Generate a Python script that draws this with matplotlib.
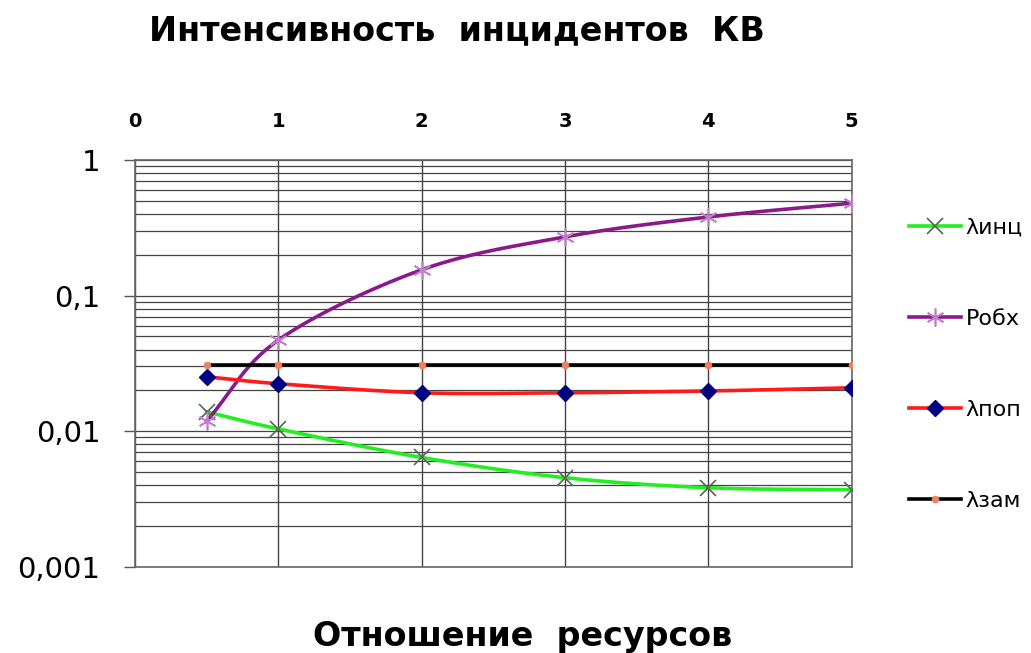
import matplotlib.pyplot as plt
from matplotlib.ticker import FixedLocator, LogLocator, NullFormatter
import numpy as np

plt.rcParams['font.family'] = ['DejaVu Sans']

# resource ratio on the x axis
x = [0.5, 1, 2, 3, 4, 5]

lam_inc = [0.0139, 0.0104, 0.0064, 0.00454, 0.00383, 0.0037]
p_obh = [0.0119, 0.047, 0.155, 0.271, 0.38, 0.48]
lam_pop = [0.0252, 0.0224, 0.0192, 0.0192, 0.0198, 0.0209]
lam_zam = [0.031, 0.031, 0.031, 0.031, 0.031, 0.031]

series_names = ['λинц', 'Робх', 'λпоп', 'λзам']
y_ticks = [0.001, 0.01, 0.1, 1]
y_ticklabels = ['0,001', '0,01', '0,1', '1']
x_ticks = [0, 1, 2, 3, 4, 5]


def smooth(xs, ys, n=30):
    # Catmull-Rom curve through the points, in log space
    px = np.asarray(xs, float)
    py = np.log10(np.asarray(ys, float))
    px = np.concatenate([[2 * px[0] - px[1]], px, [2 * px[-1] - px[-2]]])
    py = np.concatenate([[2 * py[0] - py[1]], py, [2 * py[-1] - py[-2]]])
    out_x, out_y = [], []
    for i in range(1, len(px) - 2):
        t = np.linspace(0, 1, n, endpoint=(i == len(px) - 3))
        for arr, out in ((px, out_x), (py, out_y)):
            p0, p1, p2, p3 = arr[i - 1], arr[i], arr[i + 1], arr[i + 2]
            out.extend(0.5 * ((2 * p1) + (-p0 + p2) * t
                              + (2 * p0 - 5 * p1 + 4 * p2 - p3) * t ** 2
                              + (-p0 + 3 * p1 - 3 * p2 + p3) * t ** 3))
    return np.array(out_x), 10 ** np.array(out_y)


fig = plt.figure(figsize=(10.31, 6.53), dpi=100)
ax = fig.add_axes([0.131, 0.132, 0.695, 0.623])

styles = [
    (lam_inc, '#22ee22', 'x', '#556655', 11, 1.2),
    (p_obh, '#8a1a8a', (6, 2, 0), '#c080c8', 13, 1.2),
    (lam_pop, '#ff1a1a', 'D', '#000080', 8, 1.0),
    (lam_zam, '#000000', 'o', '#f08060', 5, 0.5),
]
for (ys, lc, mk, mc, ms, mew), name in zip(styles, series_names):
    sx, sy = smooth(x, ys)
    ax.plot(sx, sy, color=lc, lw=2.6, zorder=3)
    ax.plot(x, ys, ls='none', marker=mk, color=mc, ms=ms, mew=mew, zorder=4)
    ax.plot([], [], color=lc, lw=2.6, marker=mk, mfc=mc, mec=mc, ms=ms,
            mew=mew, label=name)

ax.set_yscale('log')
ax.set_ylim(0.001, 1)
ax.set_xlim(0, 5)

ax.yaxis.set_major_locator(FixedLocator(y_ticks))
ax.set_yticklabels(y_ticklabels)
ax.yaxis.set_minor_locator(LogLocator(base=10, subs=np.arange(2, 10)))
ax.yaxis.set_minor_formatter(NullFormatter())
ax.tick_params(axis='y', which='minor', length=0)
ax.tick_params(axis='y', which='major', length=8, width=1, color='#555555',
               labelsize=21, pad=17)

ax.set_xticks(x_ticks)
ax.xaxis.tick_top()
ax.tick_params(axis='x', length=0, labelsize=14, pad=21)
for lbl in ax.get_xticklabels():
    lbl.set_fontweight('bold')

ax.grid(True, axis='x', which='major', color='#444444', lw=1)
ax.grid(True, axis='y', which='both', color='#444444', lw=0.9)
ax.set_axisbelow(True)
for sp in ax.spines.values():
    sp.set_color('#666666')
    sp.set_linewidth(1.2)

fig.text(0.443, 0.953, 'Интенсивность  инцидентов  КВ', ha='center', va='center',
         fontsize=24, fontweight='bold')
fig.text(0.507, 0.025, 'Отношение  ресурсов', ha='center', va='center',
         fontsize=24, fontweight='bold')

ax.legend(loc='upper left', bbox_to_anchor=(1.052, 0.907), frameon=False,
          fontsize=16, labelspacing=3.2, handlelength=2.35, handletextpad=0.2)

fig.savefig('out.png', dpi=100, facecolor='white')
